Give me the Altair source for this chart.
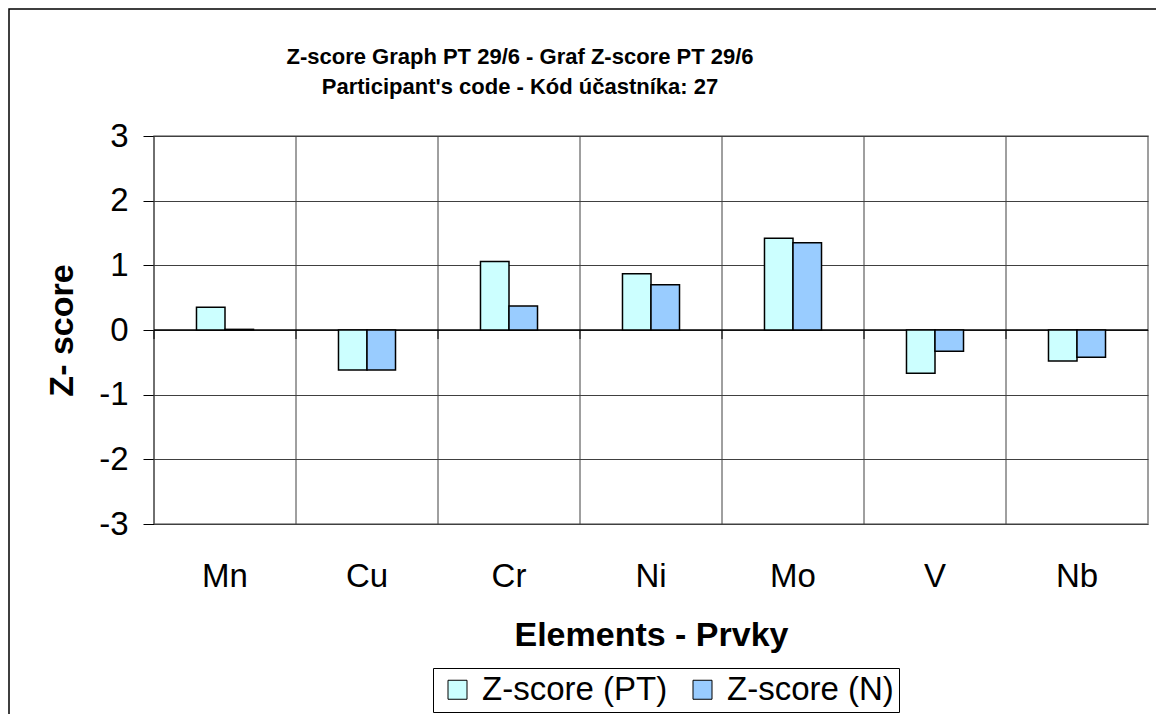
import altair as alt
import pandas as pd

elements = ["Mn", "Cu", "Cr", "Ni", "Mo", "V", "Nb"]
z_pt = [0.35, -0.62, 1.06, 0.87, 1.42, -0.67, -0.48]
z_n = [0.01, -0.62, 0.37, 0.70, 1.35, -0.33, -0.42]
series = ["Z-score (PT)", "Z-score (N)"]
colors = ["#CCFFFF", "#99CCFF"]
y_ticks = [-3, -2, -1, 0, 1, 2, 3]
title_lines = ["Z-score Graph PT 29/6 - Graf Z-score PT 29/6",
               "Participant's code - Kód účastníka:  27"]

rows = []
for e, a, b in zip(elements, z_pt, z_n):
    rows.append({"element": e, "series": series[0], "z": a})
    rows.append({"element": e, "series": series[1], "z": b})
df = pd.DataFrame(rows)
cats = pd.DataFrame({"element": elements})
zero_df = pd.DataFrame({"z": [0]})

FONT = "Liberation Sans"
W, H = 994, 388
GRID = "#404040"

xscale = alt.Scale(domain=elements, paddingInner=0, paddingOuter=0)
yscale = alt.Scale(domain=[-3, 3], nice=False)
# empty slots either side of the pair of bars, to leave the gap Excel leaves
offset_domain = ["_l"] + series + ["_r"]

xaxis = alt.Axis(title="Elements - Prvky", titleFont=FONT, titleFontSize=34,
                 titleFontWeight="bold", titleColor="black",
                 labelFont=FONT, labelFontSize=33, labelColor="black",
                 labelAngle=0, ticks=False, domain=False, grid=False,
                 labelPadding=36, titlePadding=25)
yaxis = alt.Axis(title="Z- score", titleFont=FONT, titleFontSize=34,
                 titleFontWeight="bold", titleColor="black",
                 labelFont=FONT, labelFontSize=33, labelColor="black",
                 values=y_ticks, labelExpr="'' + datum.value", tickSize=11,
                 tickColor="black", tickWidth=1, domain=False, grid=True,
                 gridColor=GRID, gridWidth=1, labelPadding=15, titlePadding=19)

border = alt.Chart(zero_df).mark_rect(filled=False, stroke="black", strokeWidth=1.5).encode(
    x=alt.value(-145), x2=alt.value(1200), y=alt.value(-127), y2=alt.value(800)
)

vgrid = alt.Chart(cats).mark_rule(color=GRID, strokeWidth=1).encode(
    x=alt.X("element:N", scale=xscale, sort=elements, bandPosition=0, axis=xaxis)
)

zero = alt.Chart(zero_df).mark_rule(color="black", strokeWidth=1.5).encode(
    y=alt.Y("z:Q", scale=yscale, axis=yaxis)
)

zticks = alt.Chart(cats).mark_rule(color="black", strokeWidth=1, y2Offset=9).encode(
    x=alt.X("element:N", scale=xscale, sort=elements, bandPosition=0),
    y=alt.datum(0), y2=alt.datum(0)
)

bars = alt.Chart(df).mark_bar(stroke="black", strokeWidth=1.5).encode(
    x=alt.X("element:N", scale=xscale, sort=elements, axis=xaxis),
    xOffset=alt.XOffset("series:N",
                        scale=alt.Scale(domain=offset_domain, paddingInner=0, paddingOuter=0.49)),
    y=alt.Y("z:Q", scale=yscale, axis=yaxis, stack=None),
    color=alt.Color("series:N", sort=series,
                    scale=alt.Scale(domain=series, range=colors),
                    legend=alt.Legend(title=None, orient="none", legendX=279, legendY=532,
                                      direction="horizontal", strokeColor="black",
                                      padding=5, symbolType="square", symbolSize=361,
                                      symbolStrokeColor="black", symbolStrokeWidth=1,
                                      labelFont=FONT, labelFontSize=33, labelColor="black",
                                      labelLimit=0, columnPadding=15, labelOffset=8,
                                      symbolOffset=3)),
)

chart = alt.layer(border, vgrid, zero, zticks, bars).properties(
    width=W, height=H,
    autosize=alt.AutoSizeParams(type="none"),
    padding={"left": 146, "top": 128, "right": 8, "bottom": 190},
    background="white",
    title=alt.TitleParams(title_lines, font=FONT, fontSize=22, fontWeight="bold",
                          color="black", anchor="middle", dx=-131, dy=95, lineHeight=30),
).configure_view(stroke="#808080", strokeWidth=1.5)

chart.save("out.html", embed_options={"renderer": "svg", "actions": False})
